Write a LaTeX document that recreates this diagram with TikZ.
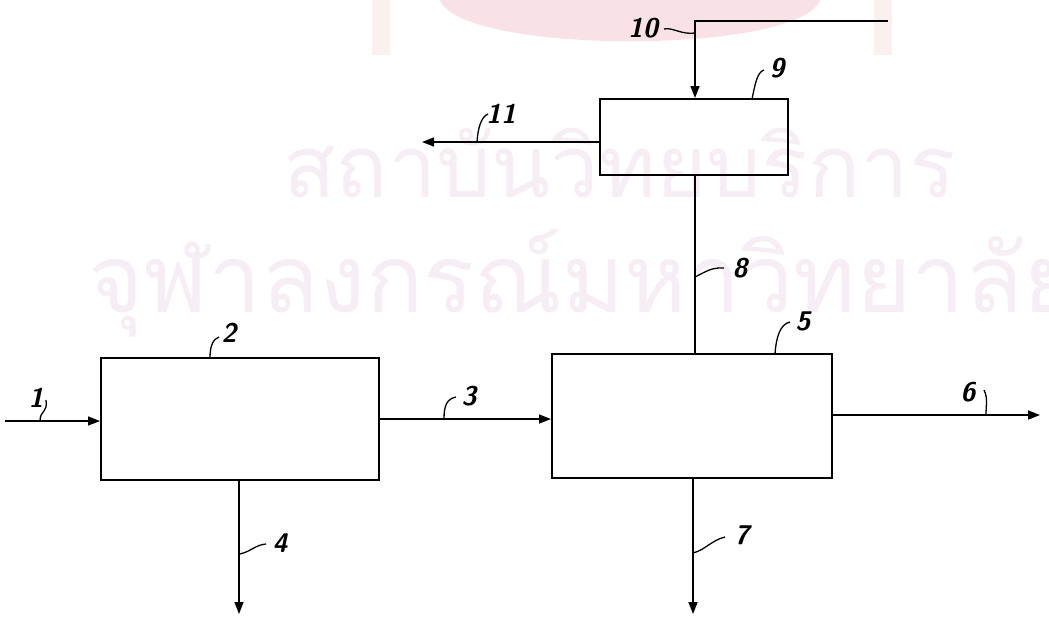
\documentclass[tikz,border=0pt]{standalone}
\usepackage{fontspec}
\usepackage{graphicx}
\newfontfamily\thaifont[Script=Thai]{Loma}
\usetikzlibrary{arrows.meta}
\definecolor{wm}{RGB}{247,237,244}
\definecolor{logo}{RGB}{249,226,231}
\definecolor{pillar}{RGB}{250,240,240}
\begin{document}
\begin{tikzpicture}[x=1pt,y=-1pt,
  box/.style={draw,line width=2pt,inner sep=0pt},
  flow/.style={line width=1.6pt,-{Triangle[length=12pt,width=9pt]}},
  pipe/.style={line width=1.6pt},
  lead/.style={line width=1.3pt},
  lbl/.style={font=\fontsize{27}{27}\selectfont\sffamily\bfseries\itshape,inner sep=0pt},
  wmark/.style={text=wm,inner sep=0pt}]
\useasboundingbox (0,0) rectangle (1049,622);
% faint watermark
\fill[logo] (440,0) .. controls (460,55) and (800,55) .. (820,0) -- cycle;
\fill[pillar] (372,0) rectangle (390,55);
\fill[pillar] (874,0) rectangle (892,55);
\node[wmark,anchor=west] (wm1) at (283,163) {\resizebox{672pt}{!}{\thaifont สถาบันวิทยบริการ}};
\node[wmark,anchor=west] (wm2) at (88,283) {\resizebox{990pt}{!}{\thaifont จุฬาลงกรณ์มหาวิทยาลัย}};
% boxes
\node[box,minimum width=278pt,minimum height=122pt] (b2) at (240,419) {};
\node[box,minimum width=280pt,minimum height=124pt] (b5) at (692,416) {};
\node[box,minimum width=188pt,minimum height=76pt] (b9) at (694,137) {};
% free ends
\coordinate (in1) at (5,421);
\coordinate (out4) at (239,614);
\coordinate (out7) at (693,614);
\coordinate (out6) at (1040,415);
\coordinate (out11) at (422,142);
\coordinate (src10) at (888,21);
\coordinate (knee10) at (695,21);
\coordinate (s3) at (0,419);
% connectors
\draw[flow] (in1) -- (in1 -| b2.west);
\draw[flow] (b2.east |- s3) -- (b5.west |- s3);
\draw[flow] (b5.east |- out6) -- (out6);
\draw[flow] (b2.south -| out4) -- (out4);
\draw[flow] (b5.south -| out7) -- (out7);
\draw[pipe] (b9.south -| knee10) -- (b5.north -| knee10);
\draw[flow] (src10) -- (knee10) -- (b9.north -| knee10);
\draw[flow] (b9.west |- out11) -- (out11);
% labels
\node[lbl] (l1) at (36,398) {1};
\node[lbl] (l2) at (229,333) {2};
\node[lbl] (l3) at (469,396) {3};
\node[lbl] (l4) at (280,543) {4};
\node[lbl] (l5) at (803,321) {5};
\node[lbl] (l6) at (968,392) {6};
\node[lbl] (l7) at (742,535) {7};
\node[lbl] (l8) at (740,268) {8};
\node[lbl] (l9) at (777,68) {9};
\node[lbl] (l10) at (643,28) {10};
\node[lbl] (l11) at (501,114) {11};
% leaders
\draw[lead] (40,421) .. controls (40,410) and (48,413) .. (46,400);
\draw[lead] (210,358) .. controls (210,346) and (213,339) .. (219,337);
\draw[lead] (444,419) .. controls (444,405) and (447,399) .. (456,397);
\draw[lead] (240,554) .. controls (252,551) and (255,545) .. (266,544);
\draw[lead] (775,354) .. controls (776,338) and (780,324) .. (790,322);
\draw[lead] (986,415) .. controls (986,405) and (988,398) .. (984,390);
\draw[lead] (693,553) .. controls (705,550) and (712,540) .. (725,537);
\draw[lead] (695,277) .. controls (705,272) and (712,267) .. (724,268);
\draw[lead] (752,99) .. controls (755,85) and (757,72) .. (764,70);
\draw[lead] (664,29) .. controls (672,27) and (682,35) .. (695,33);
\draw[lead] (477,142) .. controls (478,128) and (481,117) .. (488,114);
\end{tikzpicture}
\end{document}
